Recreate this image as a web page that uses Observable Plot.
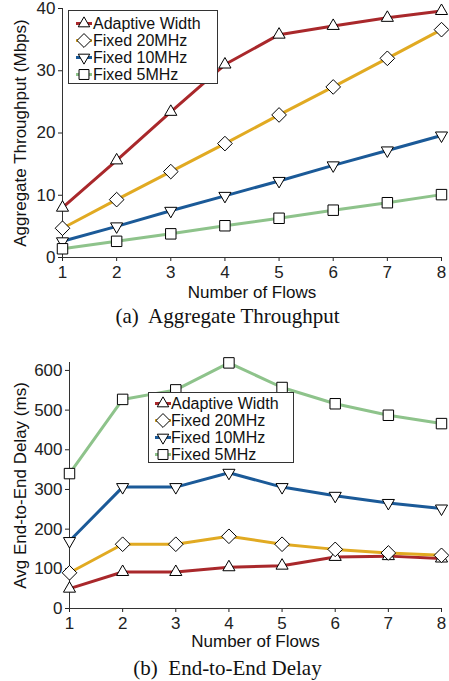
<!DOCTYPE html>
<html><head><meta charset="utf-8">
<script src="https://cdn.jsdelivr.net/npm/d3@7"></script>
<script src="https://cdn.jsdelivr.net/npm/@observablehq/plot@0.6"></script>
<style>
body{margin:0;background:#fff;}
#wrap{position:relative;width:449px;height:681px;overflow:hidden;font-family:"Liberation Sans",Arial,sans-serif;background:#fff;}
.chart{position:absolute;left:0;}
.caption{position:absolute;left:3px;width:449px;text-align:center;font-family:"Liberation Serif","Times New Roman",serif;font-size:21px;line-height:24px;color:#111;white-space:pre;}
.legend{position:absolute;background:#fff;border:1px solid #333;box-sizing:border-box;font-size:16px;color:#111;}
.legend .row{position:absolute;left:0;height:17px;display:flex;align-items:center;white-space:nowrap;}
.legend .row span{display:block;height:17px;line-height:17px;}
</style>
</head><body><div id="wrap"></div>
<script>
// ---------- data ----------
const flows = [1, 2, 3, 4, 5, 6, 7, 8];
const seriesNames = ["Adaptive Width", "Fixed 20MHz", "Fixed 10MHz", "Fixed 5MHz"];
const seriesColors = ["#a9282b", "#e1aa22", "#1b5a98", "#8ec38b"];

const thrAdaptive = [8.0, 15.6, 23.4, 31.0, 35.8, 37.2, 38.5, 39.6];
const thr20 = [4.7, 9.3, 13.8, 18.3, 22.9, 27.4, 32.0, 36.6];
const thr10 = [2.6, 5.0, 7.5, 9.9, 12.3, 14.8, 17.2, 19.6];
const thr5 = [1.4, 2.6, 3.8, 5.1, 6.3, 7.6, 8.8, 10.1];

const delayAdaptive = [50, 92, 92, 104, 108, 130, 132, 126];
const delay20 = [90, 162, 162, 182, 162, 149, 140, 134];
const delay10 = [170, 306, 306, 342, 306, 284, 266, 252];
const delay5 = [340, 527, 551, 619, 557, 516, 487, 466];

const thrTicks = [0, 10, 20, 30, 40];
const delayTicks = [0, 100, 200, 300, 400, 500, 600];

const xLabel = "Number of Flows";
const thrLabel = "Aggregate Throughput (Mbps)";
const delayLabel = "Avg End-to-End Delay (ms)";
const captionA = "(a)  Aggregate Throughput";
const captionB = "(b)  End-to-End Delay";

// ---------- symbols ----------
const sqrt3 = Math.sqrt(3);
const triangleDown = {
  draw(ctx, size) {
    const y = -Math.sqrt(size / (sqrt3 * 3));
    ctx.moveTo(0, -y * 2);
    ctx.lineTo(-sqrt3 * y, y);
    ctx.lineTo(sqrt3 * y, y);
    ctx.closePath();
  }
};
const symbols = [d3.symbolTriangle, d3.symbolDiamond2, triangleDown, d3.symbolSquare];
const symbolR = [4.5, 6.6, 4.5, 5.9];

function makeSeries(valuesList) {
  return valuesList.map((values, i) => ({
    name: seriesNames[i], color: seriesColors[i], symbol: symbols[i], r: symbolR[i],
    data: flows.map((f, j) => ({x: f, y: values[j]}))
  }));
}

function makeChart(o) {
  const marks = [
    Plot.ruleX([1], {stroke: "#333", strokeWidth: 1}),
    Plot.ruleY([0], {stroke: "#333", strokeWidth: 1})
  ];
  for (const s of o.series) {
    marks.push(Plot.line(s.data, {x: "x", y: "y", stroke: s.color, strokeWidth: 3}));
    marks.push(Plot.dot(s.data, {x: "x", y: "y", symbol: s.symbol, r: s.r, fill: "white", stroke: "black", strokeWidth: 1}));
  }
  marks.push(Plot.text([xLabel], {text: d => d, frameAnchor: "bottom", textAnchor: "middle", dy: o.xLabelDy, fontSize: 17, fill: "#111"}));
  marks.push(Plot.text([o.yLabel], {text: d => d, frameAnchor: "left", textAnchor: "middle", dx: o.yLabelDx, rotate: -90, fontSize: 17, fill: "#111"}));
  return Plot.plot({
    width: 449,
    height: o.height,
    marginTop: o.marginTop,
    marginBottom: o.marginBottom,
    marginLeft: o.marginLeft,
    marginRight: 8,
    style: {fontFamily: "Liberation Sans, Arial, sans-serif", fontSize: "17px", color: "#222", background: "white", overflow: "visible"},
    x: {domain: [1, 8], ticks: flows, tickFormat: "d", tickSize: 4, tickPadding: 4, label: null},
    y: {domain: o.yDomain, ticks: o.yTicks, tickFormat: "d", tickSize: 4, tickPadding: 3, label: null},
    marks
  });
}

function makeLegend(series, pos) {
  const box = document.createElement("div");
  box.className = "legend";
  Object.assign(box.style, {left: pos.left + "px", top: pos.top + "px", width: pos.width + "px", height: pos.height + "px"});
  series.forEach((s, i) => {
    const row = document.createElement("div");
    row.className = "row";
    row.style.top = (pos.rowTop + i * 17) + "px";
    const svg = d3.create("svg").attr("width", pos.textX).attr("height", 17).style("display", "block").style("flex", "none");
    svg.append("line").attr("x1", pos.markX - 8).attr("x2", pos.markX + 8).attr("y1", 8.5).attr("y2", 8.5)
      .attr("stroke", s.color).attr("stroke-width", 3);
    svg.append("path").attr("transform", `translate(${pos.markX},8.5)`)
      .attr("d", d3.symbol(s.symbol, Math.PI * s.r * s.r * 0.9)())
      .attr("fill", "white").attr("stroke", "black");
    row.appendChild(svg.node());
    const t = document.createElement("span");
    t.textContent = s.name;
    row.appendChild(t);
    box.appendChild(row);
  });
  return box;
}

const wrap = document.getElementById("wrap");

// ---------- chart (a) ----------
const seriesA = makeSeries([thrAdaptive, thr20, thr10, thr5]);
const chartA = makeChart({
  series: seriesA, yDomain: [0, 40], yTicks: thrTicks, yLabel: thrLabel,
  height: 308, marginTop: 8, marginBottom: 51, marginLeft: 62, xLabelDy: 40, yLabelDx: -42
});
chartA.classList.add("chart");
chartA.style.top = "0px";
wrap.appendChild(chartA);
wrap.appendChild(makeLegend(seriesA, {left: 68, top: 10, width: 150, height: 74, rowTop: 4, markX: 15, textX: 24}));
const capA = document.createElement("div");
capA.className = "caption"; capA.style.top = "304px"; capA.textContent = captionA;
wrap.appendChild(capA);

// ---------- chart (b) ----------
const seriesB = makeSeries([delayAdaptive, delay20, delay10, delay5]);
const chartB = makeChart({
  series: seriesB, yDomain: [0, 620], yTicks: delayTicks, yLabel: delayLabel,
  height: 318, marginTop: 22, marginBottom: 50, marginLeft: 69, xLabelDy: 38, yLabelDx: -49
});
chartB.classList.add("chart");
chartB.style.top = "340px";
wrap.appendChild(chartB);
wrap.appendChild(makeLegend(seriesB, {left: 148, top: 392, width: 146, height: 71, rowTop: 2, markX: 14, textX: 22}));
const capB = document.createElement("div");
capB.className = "caption"; capB.style.top = "656px"; capB.textContent = captionB;
wrap.appendChild(capB);
</script></body></html>
